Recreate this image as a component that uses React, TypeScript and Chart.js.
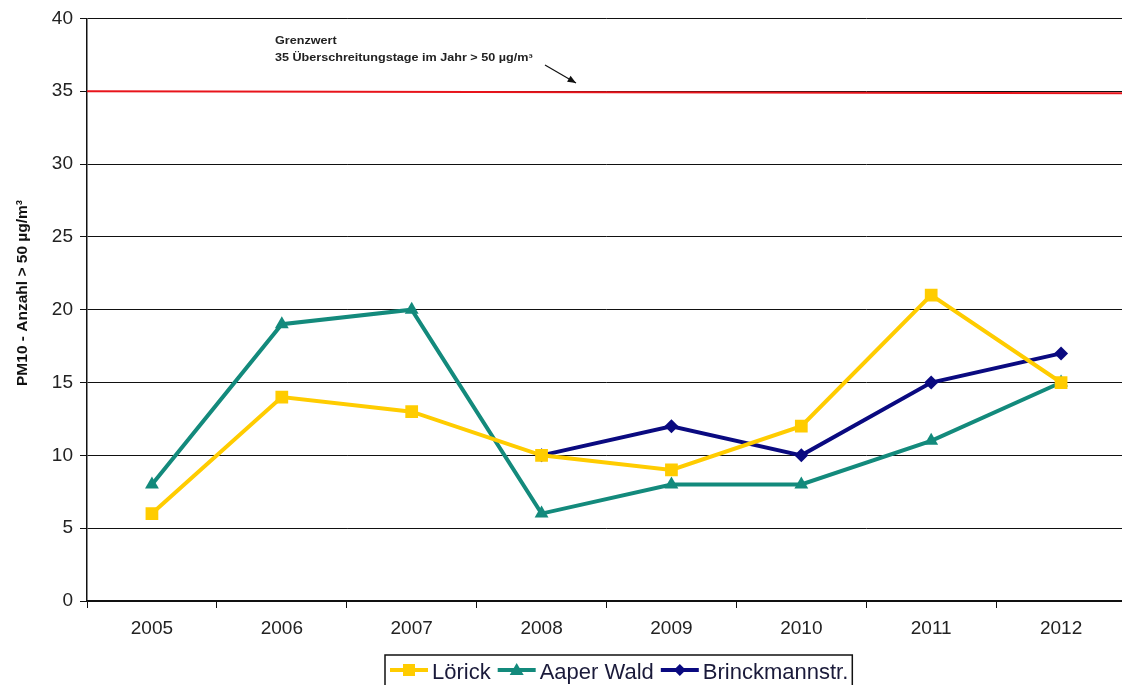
import React, { useEffect, useRef } from "react";
import { Chart, registerables } from "chart.js";

Chart.register(...registerables);

const years = ["2005", "2006", "2007", "2008", "2009", "2010", "2011", "2012"];
const lorick = [6, 14, 13, 10, 9, 12, 21, 15];
const aaperWald = [8, 19, 20, 6, 8, 8, 11, 15];
const brinckmann = [null, null, null, 10, 12, 10, 15, 17];
const limitValue = 35;
const limitTitle = "Grenzwert";
const limitText = "35 Überschreitungstage im Jahr > 50 µg/m³";
const yTitle = "PM10 - Anzahl > 50 µg/m³";

const COLORS = {
  lorick: "#FFCC00",
  aaper: "#138A7C",
  brinck: "#0A0A80",
};

const FONT = "Arial, 'Liberation Sans', sans-serif";

const extrasPlugin = {
  id: "extras",
  beforeDatasetsDraw(chart: any) {
    const { ctx, chartArea, scales } = chart;
    const y = scales.y.getPixelForValue(limitValue);
    ctx.save();
    ctx.strokeStyle = "#E8141B";
    ctx.lineWidth = 2;
    ctx.beginPath();
    ctx.moveTo(chartArea.left, y);
    ctx.lineTo(chartArea.right, y + 2);
    ctx.stroke();
    ctx.restore();
  },
  afterDraw(chart: any) {
    const { ctx } = chart;
    ctx.save();
    // limit annotation (slightly widened lettering)
    ctx.save();
    ctx.translate(275, 0);
    ctx.scale(1.26, 1);
    ctx.fillStyle = "#222";
    ctx.font = `bold 10px ${FONT}`;
    ctx.textAlign = "left";
    ctx.textBaseline = "alphabetic";
    ctx.fillText(limitTitle, 0, 44);
    ctx.fillText(limitText, 0, 61);
    ctx.restore();
    // arrow
    ctx.strokeStyle = "#111";
    ctx.fillStyle = "#111";
    ctx.lineWidth = 1.2;
    const x0 = 545, y0 = 65, x1 = 576, y1 = 83;
    ctx.beginPath();
    ctx.moveTo(x0, y0);
    ctx.lineTo(x1, y1);
    ctx.stroke();
    const ang = Math.atan2(y1 - y0, x1 - x0);
    ctx.beginPath();
    ctx.moveTo(x1, y1);
    ctx.lineTo(x1 - 9 * Math.cos(ang - 0.4), y1 - 9 * Math.sin(ang - 0.4));
    ctx.lineTo(x1 - 9 * Math.cos(ang + 0.4), y1 - 9 * Math.sin(ang + 0.4));
    ctx.closePath();
    ctx.fill();

    // y axis title
    ctx.save();
    ctx.translate(23, 293);
    ctx.rotate(-Math.PI / 2);
    ctx.font = `bold 15.5px ${FONT}`;
    ctx.fillStyle = "#111";
    ctx.textAlign = "center";
    ctx.textBaseline = "middle";
    ctx.fillText(yTitle, 0, 0);
    ctx.restore();

    // legend box
    const entries = [
      { label: "Lörick", color: COLORS.lorick, shape: "rect" },
      { label: "Aaper Wald", color: COLORS.aaper, shape: "triangle" },
      { label: "Brinckmannstr.", color: COLORS.brinck, shape: "rectRot" },
    ];
    ctx.font = `22px ${FONT}`;
    const top = 655;
    const left = 385;
    const lineLen = 38;
    const gapText = 4;
    const gapItem = 7;
    let x = left + 5;
    const cy = 670;
    const widths = entries.map((e) => ctx.measureText(e.label).width);
    const total = entries.reduce((s, _e, i) => s + lineLen + gapText + widths[i] + gapItem, 0);
    ctx.strokeStyle = "#111";
    ctx.lineWidth = 1.5;
    ctx.strokeRect(left, top, total + 2, 40);
    entries.forEach((e, i) => {
      ctx.strokeStyle = e.color;
      ctx.fillStyle = e.color;
      ctx.lineWidth = 4;
      ctx.beginPath();
      ctx.moveTo(x, cy);
      ctx.lineTo(x + lineLen, cy);
      ctx.stroke();
      const mx = x + lineLen / 2;
      ctx.beginPath();
      if (e.shape === "rect") {
        ctx.rect(mx - 6, cy - 6, 12, 12);
      } else if (e.shape === "triangle") {
        ctx.moveTo(mx, cy - 7);
        ctx.lineTo(mx + 7, cy + 5);
        ctx.lineTo(mx - 7, cy + 5);
        ctx.closePath();
      } else {
        ctx.moveTo(mx, cy - 6);
        ctx.lineTo(mx + 6, cy);
        ctx.lineTo(mx, cy + 6);
        ctx.lineTo(mx - 6, cy);
        ctx.closePath();
      }
      ctx.fill();
      ctx.fillStyle = "#1a1a3a";
      ctx.textAlign = "left";
      ctx.textBaseline = "alphabetic";
      ctx.fillText(e.label, x + lineLen + gapText, 679);
      x += lineLen + gapText + widths[i] + gapItem;
    });
    ctx.restore();
  },
};

export default function App() {
  const ref = useRef<HTMLCanvasElement | null>(null);

  useEffect(() => {
    if (!ref.current) return;
    const chart = new Chart(ref.current, {
      type: "line",
      data: {
        labels: years,
        datasets: [
          {
            label: "Lörick",
            data: lorick,
            borderColor: COLORS.lorick,
            backgroundColor: COLORS.lorick,
            borderWidth: 4,
            pointStyle: "rect",
            pointRadius: 9,
            pointBorderWidth: 0,
            tension: 0,
          },
          {
            label: "Aaper Wald",
            data: aaperWald,
            borderColor: COLORS.aaper,
            backgroundColor: COLORS.aaper,
            borderWidth: 4,
            pointStyle: "triangle",
            pointRadius: 8,
            pointBorderWidth: 0,
            tension: 0,
          },
          {
            label: "Brinckmannstr.",
            data: brinckmann,
            borderColor: COLORS.brinck,
            backgroundColor: COLORS.brinck,
            borderWidth: 4,
            pointStyle: "rectRot",
            pointRadius: 7,
            pointBorderWidth: 0,
            tension: 0,
            spanGaps: false,
          },
        ],
      },
      options: {
        animation: false,
        responsive: false,
        layout: { padding: { top: 16, right: 3, left: 0, bottom: 0 } },
        plugins: {
          legend: { display: false },
          tooltip: { enabled: false },
        },
        scales: {
          x: {
            offset: true,
            afterFit: (s: any) => {
              s.height = 84;
            },
            grid: {
              offset: true,
              drawOnChartArea: false,
              drawTicks: true,
              tickLength: 7,
              color: "#111",
            },
            border: { color: "#111", width: 1.5 },
            ticks: {
              color: "#222",
              font: { family: FONT, size: 19 },
              padding: 9,
              maxRotation: 0,
            },
          },
          y: {
            min: 0,
            max: 40,
            afterFit: (s: any) => {
              s.width = 87;
            },
            ticks: {
              stepSize: 5,
              color: "#222",
              font: { family: FONT, size: 19 },
              padding: 7,
            },
            grid: {
              color: "#111",
              lineWidth: 1,
              tickLength: 7,
            },
            border: { color: "#111", width: 1.5 },
          },
        },
      },
      plugins: [extrasPlugin],
    });
    return () => chart.destroy();
  }, []);

  return (
    <div
      style={{
        position: "fixed",
        left: 0,
        top: 0,
        width: 1122,
        height: 685,
        overflow: "hidden",
        background: "#fff",
      }}
    >
      <canvas
        ref={ref}
        width={1135}
        height={685}
        style={{ display: "block", width: 1135, height: 685 }}
      />
    </div>
  );
}
